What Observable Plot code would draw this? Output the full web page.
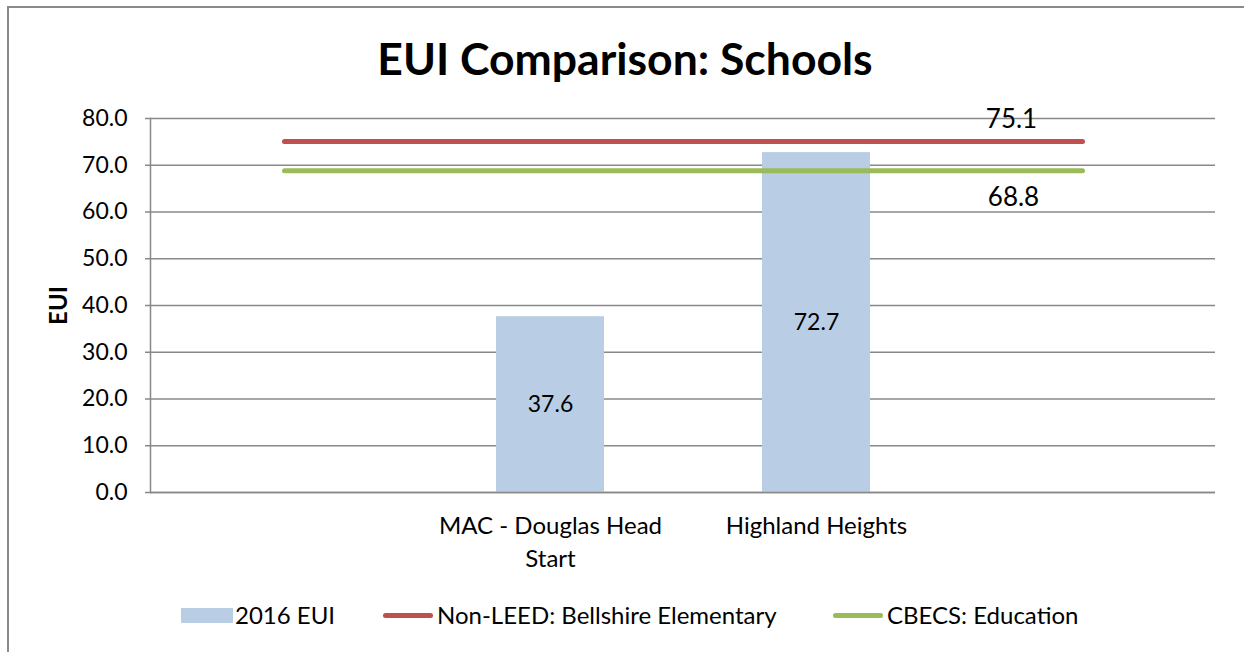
<!DOCTYPE html>
<html>
<head>
<meta charset="utf-8">
<script src="https://cdn.jsdelivr.net/npm/d3@7"></script>
<script src="https://cdn.jsdelivr.net/npm/@observablehq/plot@0.6"></script>
<style>
  body { margin: 0; background: #fff; font-family: Lato, "Open Sans", sans-serif; }
  #frame { position: absolute; left: 7px; top: 6px; width: 1300px; height: 700px; border: 2px solid #8a8a8a; box-sizing: border-box; }
  #title { position: absolute; left: 0; top: 35px; width: 1250px; height: 46px; line-height: 46px; text-align: center; font-weight: bold; font-size: 44.5px; color: #000; }
  #chart { position: absolute; left: 0; top: 100px; }
  #legend { position: absolute; left: 0; top: 600px; width: 1244px; height: 30px; font-size: 24px; color: #000; }
  .lg { position: absolute; top: 0; height: 30px; line-height: 30px; white-space: nowrap; }
  .sw { position: absolute; }
  g[aria-label="y-axis label"] text { font-weight: bold; font-size: 24px; }
</style>
</head>
<body>
<div id="frame"></div>
<div id="title">EUI Comparison: Schools</div>
<div id="chart"></div>
<div id="legend"></div>
<script>
// Data
const categories = ["c0", "c1", "c2", "c3"];
const categoryLabels = ["", "MAC - Douglas Head\nStart", "Highland Heights", ""];
const barCategories = ["c1", "c2"];
const eui2016 = [37.6, 72.7];
const nonLeedValue = 75.1;   // Non-LEED: Bellshire Elementary
const cbecsValue = 68.8;     // CBECS: Education
const lineEnds = ["c0", "c3"];
const yTicks = [0, 10, 20, 30, 40, 50, 60, 70, 80];

const seriesNames = ["2016 EUI", "Non-LEED: Bellshire Elementary", "CBECS: Education"];
const colors = { bar: "#B9CDE5", red: "#C0504D", green: "#9BBB59", grid: "#888888" };

const bars = barCategories.map((c, i) => ({ x: c, v: eui2016[i] }));
const redLine = lineEnds.map(c => ({ x: c, v: nonLeedValue }));
const greenLine = lineEnds.map(c => ({ x: c, v: cbecsValue }));
const labelFor = Object.fromEntries(categories.map((c, i) => [c, categoryLabels[i]]));

const chart = Plot.plot({
  width: 1244,
  height: 480,
  marginTop: 18,
  marginBottom: 88,
  marginLeft: 150,
  marginRight: 29,
  style: { fontFamily: "Lato, 'Open Sans', sans-serif", fontSize: "23px", color: "#000", background: "transparent" },
  x: { type: "band", domain: categories, paddingInner: 0.594, paddingOuter: 0.297, align: 0.5 },
  y: { domain: [0, 80] },
  marks: [
    Plot.gridY(yTicks, { stroke: colors.grid, strokeOpacity: 1, strokeWidth: 1.5 }),
    Plot.barY(bars, { x: "x", y: "v", fill: colors.bar }),
    Plot.ruleY([0], { stroke: colors.grid, strokeWidth: 1.5 }),
    Plot.frame({ anchor: "left", stroke: colors.grid, strokeWidth: 1.5 }),
    Plot.line(redLine, { x: "x", y: "v", stroke: colors.red, strokeWidth: 5, strokeLinecap: "round" }),
    Plot.line(greenLine, { x: "x", y: "v", stroke: colors.green, strokeWidth: 5, strokeLinecap: "round" }),
    Plot.text(bars, { x: "x", y: d => d.v / 2, text: d => d.v.toFixed(1), fontSize: 23, fill: "#000" }),
    Plot.text(redLine.slice(1), { x: "x", y: "v", text: d => d.v.toFixed(1), dx: -71, dy: -22, fontSize: 26, fill: "#000" }),
    Plot.text(greenLine.slice(1), { x: "x", y: "v", text: d => d.v.toFixed(1), dx: -69, dy: 27, fontSize: 26, fill: "#000" }),
    Plot.axisY(yTicks, {
      tickFormat: d => d.toFixed(1), tickSize: 5, tickPadding: 18, stroke: colors.grid, strokeWidth: 1.5,
      fontSize: 23, label: "EUI", labelAnchor: "center", labelArrow: "none", labelOffset: 101
    }),
    Plot.axisX({ tickFormat: d => labelFor[d], tickSize: 0, tickPadding: 18, fontSize: 24, lineHeight: 1.38, label: null })
  ]
});
document.getElementById("chart").appendChild(chart);

// Legend
const legend = document.getElementById("legend");
const items = [
  { name: seriesNames[0], type: "rect", color: colors.bar, x: 181 },
  { name: seriesNames[1], type: "line", color: colors.red, x: 383 },
  { name: seriesNames[2], type: "line", color: colors.green, x: 833 }
];
for (const it of items) {
  const sw = document.createElement("div");
  sw.className = "sw";
  if (it.type === "rect") {
    Object.assign(sw.style, { left: it.x + "px", top: "8px", width: "52px", height: "15px", background: it.color });
  } else {
    Object.assign(sw.style, { left: it.x + "px", top: "13px", width: "50px", height: "5px", background: it.color, borderRadius: "3px" });
  }
  legend.appendChild(sw);
  const t = document.createElement("div");
  t.className = "lg";
  t.style.left = (it.x + 54) + "px";
  t.textContent = it.name;
  legend.appendChild(t);
}
</script>
</body>
</html>
